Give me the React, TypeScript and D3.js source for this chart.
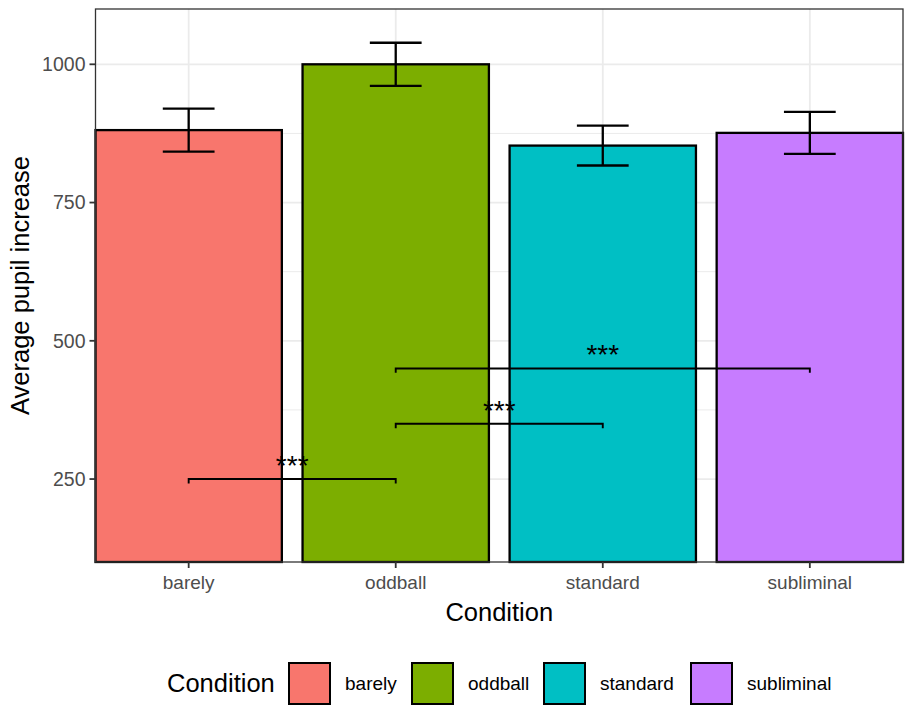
import React from "react";
import * as d3 from "d3";

const conditions = ["barely", "oddball", "standard", "subliminal"];
const means = [881, 1000, 853, 876];
const ses = [39, 39, 36, 38];
const fills = ["#F8766D", "#7CAE00", "#00BFC4", "#C77CFF"];
const yTicks = [250, 500, 750, 1000];
const yMinor = [375, 625, 875];
const comparisons = [
  { from: "barely", to: "oddball", y: 250, label: "***" },
  { from: "oddball", to: "standard", y: 350, label: "***" },
  { from: "oddball", to: "subliminal", y: 450, label: "***" },
];

const W = 907;
const H = 709;
const panel = { left: 95.5, right: 903, top: 9, bottom: 562 };
const font = "'Liberation Sans', Arial, sans-serif";

export default function App() {
  const x = d3
    .scaleBand<string>()
    .domain(conditions)
    .range([panel.left, panel.right])
    .paddingInner(0.1)
    .paddingOuter(0);
  const y = d3.scaleLinear().domain([100, 1100]).range([panel.bottom, panel.top]);
  const cx = (c: string) => (x(c) as number) + x.bandwidth() / 2;
  const errW = x.step() * 0.25;
  const tip = 8;

  // legend layout
  const legendY = 663;
  const keyW = 41;
  const keyH = 41;
  const keyX = [289, 412, 544, 691];

  return (
    <svg
      width={W}
      height={H}
      style={{ position: "absolute", left: 0, top: 0, fontFamily: font }}
    >
      <rect width={W} height={H} fill="#fff" />

      {/* grid */}
      {yMinor.map((t) => (
        <line key={"mn" + t} x1={panel.left} x2={panel.right} y1={y(t)} y2={y(t)} stroke="#EBEBEB" strokeWidth={1} />
      ))}
      {yTicks.map((t) => (
        <line key={"mj" + t} x1={panel.left} x2={panel.right} y1={y(t)} y2={y(t)} stroke="#EBEBEB" strokeWidth={1.8} />
      ))}
      {conditions.map((c) => (
        <line key={"vx" + c} x1={cx(c)} x2={cx(c)} y1={panel.top} y2={panel.bottom} stroke="#EBEBEB" strokeWidth={1.8} />
      ))}

      {/* bars */}
      {conditions.map((c, i) => (
        <rect
          key={"bar" + c}
          x={x(c)}
          y={y(means[i])}
          width={x.bandwidth()}
          height={panel.bottom - y(means[i])}
          fill={fills[i]}
          stroke="#000"
          strokeWidth={2.3}
        />
      ))}

      {/* error bars */}
      {conditions.map((c, i) => {
        const hi = y(means[i] + ses[i]);
        const lo = y(means[i] - ses[i]);
        const m = cx(c);
        return (
          <g key={"err" + c} stroke="#000" strokeWidth={2.3} fill="none">
            <line x1={m} x2={m} y1={hi} y2={lo} />
            <line x1={m - errW / 2} x2={m + errW / 2} y1={hi} y2={hi} />
            <line x1={m - errW / 2} x2={m + errW / 2} y1={lo} y2={lo} />
          </g>
        );
      })}

      {/* significance brackets */}
      {comparisons.map((s, i) => {
        const x1 = cx(s.from);
        const x2 = cx(s.to);
        const yy = y(s.y);
        const yt = y(s.y - tip);
        return (
          <g key={"sig" + i}>
            <path
              d={`M${x1},${yt}L${x1},${yy}L${x2},${yy}L${x2},${yt}`}
              fill="none"
              stroke="#000"
              strokeWidth={1.9}
            />
            <text x={(x1 + x2) / 2} y={yy - 4} textAnchor="middle" fontSize={28} fill="#000">
              {s.label}
            </text>
          </g>
        );
      })}

      {/* panel border */}
      <rect
        x={panel.left}
        y={panel.top}
        width={panel.right - panel.left}
        height={panel.bottom - panel.top}
        fill="none"
        stroke="#333333"
        strokeWidth={1.3}
      />

      {/* y axis */}
      {yTicks.map((t) => (
        <g key={"yt" + t}>
          <line x1={panel.left - 6} x2={panel.left} y1={y(t)} y2={y(t)} stroke="#333333" strokeWidth={1.8} />
          <text x={panel.left - 10} y={y(t)} dy="0.35em" textAnchor="end" fontSize={19.5} fill="#4D4D4D">
            {t}
          </text>
        </g>
      ))}

      {/* x axis */}
      {conditions.map((c) => (
        <g key={"xt" + c}>
          <line x1={cx(c)} x2={cx(c)} y1={panel.bottom} y2={panel.bottom + 6} stroke="#333333" strokeWidth={1.8} />
          <text x={cx(c)} y={panel.bottom + 27} textAnchor="middle" fontSize={19} fill="#4D4D4D">
            {c}
          </text>
        </g>
      ))}

      {/* axis titles */}
      <text x={(panel.left + panel.right) / 2} y={621} textAnchor="middle" fontSize={25.5} fill="#000">
        Condition
      </text>
      <text
        transform={`translate(29,${(panel.top + panel.bottom) / 2}) rotate(-90)`}
        textAnchor="middle"
        fontSize={25.5}
        fill="#000"
      >
        Average pupil increase
      </text>

      {/* legend */}
      <text x={167} y={legendY + keyH / 2} dy="0.35em" fontSize={25.5} fill="#000">
        Condition
      </text>
      {conditions.map((c, i) => (
        <g key={"lg" + c}>
          <rect x={keyX[i]} y={legendY} width={keyW} height={keyH} fill={fills[i]} stroke="#000" strokeWidth={2} />
          <text x={keyX[i] + keyW + 15} y={legendY + keyH / 2} dy="0.35em" fontSize={19} fill="#000">
            {c}
          </text>
        </g>
      ))}
    </svg>
  );
}
